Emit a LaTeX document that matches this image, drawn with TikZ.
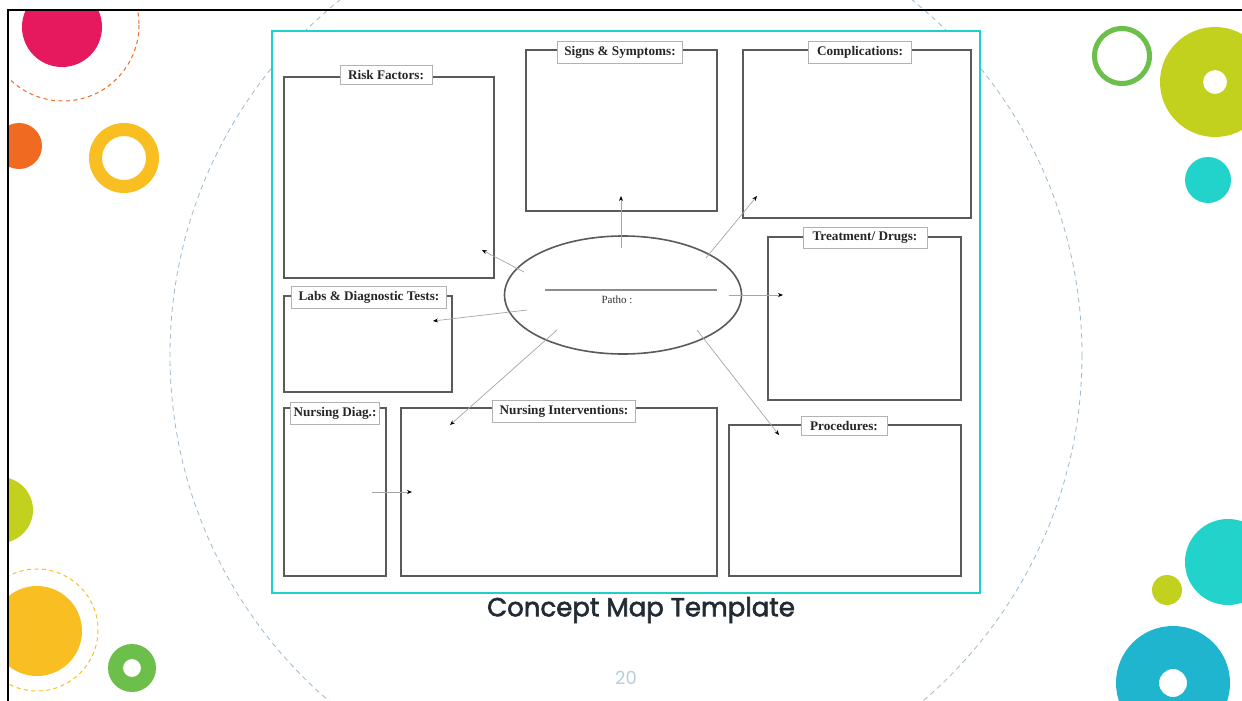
\documentclass[tikz,border=0pt]{standalone}
\usepackage{fontspec}
\setmainfont{Liberation Serif}
\newfontfamily\titlefont[FakeBold=2.3]{Poppins}
\newfontfamily\numfont{Poppins}
\usetikzlibrary{shapes.geometric,arrows.meta}
\definecolor{cmag}{HTML}{E6195E}
\definecolor{corg}{HTML}{F06A22}
\definecolor{cyel}{HTML}{F9BF22}
\definecolor{cgrn}{HTML}{6CBF4B}
\definecolor{clim}{HTML}{C2D11E}
\definecolor{ccyan}{HTML}{22D3CC}
\definecolor{cteal}{HTML}{20B5CE}
\definecolor{cdash}{HTML}{9DB9D0}
\definecolor{cframe}{HTML}{1ED0C8}
\definecolor{ctitle}{HTML}{222B33}
\definecolor{cnum}{HTML}{B8CFDC}
\definecolor{cbox}{HTML}{5A5A5A}
\tikzset{
  mapbox/.style={draw=cbox,line width=1.6pt,anchor=north west,inner sep=0pt},
  lab/.style={draw=gray!60,fill=white,line width=0.8pt,font=\bfseries\fontsize{13.2}{15}\selectfont,inner xsep=3pt,inner ysep=5pt,anchor=center,text=black!85},
  arr/.style={draw=gray!70,line width=0.7pt,-{Stealth[length=5pt,width=4pt,black]}},
  dcirc/.style={dash pattern=on 4pt off 3.5pt,line width=1pt}
}
\begin{document}
\begin{tikzpicture}[x=1pt,y=-1pt]
\useasboundingbox (0,0) rectangle (1242,701);
\fill[white] (0,0) rectangle (1242,701);
% big dashed circle
\draw[cdash,dash pattern=on 5pt off 4pt,line width=0.8pt] (626,355) circle[radius=456];
% decorations clipped to frame
\begin{scope}
\clip (8,10) rectangle (1242,701);
\fill[cmag] (62,27) circle[radius=40];
\draw[corg,dcirc] (63,25) circle[radius=76];
\fill[corg] (19,146) circle[radius=23];
\fill[cyel,even odd rule] (124,158) circle[radius=35] (124,158) circle[radius=22];
\fill[cgrn,even odd rule] (1122,56) circle[radius=30] (1122,56) circle[radius=25];
\fill[clim,even odd rule] (1215,82) circle[radius=55] (1215,82) circle[radius=12];
\fill[ccyan] (1208,180) circle[radius=23];
\fill[clim] (0,510) circle[radius=33];
\fill[cyel] (37,631) circle[radius=45];
\draw[cyel,dcirc] (37,630) circle[radius=61];
\fill[cgrn,even odd rule] (132,668) circle[radius=24] (132,668) circle[radius=9];
\fill[ccyan] (1228,562) circle[radius=43];
\fill[clim] (1167,590) circle[radius=15];
\fill[cteal,even odd rule] (1173,683) circle[radius=57] (1173,683) circle[radius=14];
\end{scope}
% black frame
\draw[black,line width=2pt] (8,701) -- (8,10) -- (1242,10);
% map frame
\draw[cframe,fill=white,line width=1.6pt] (272,31) rectangle (980,593);
% boxes
\node[mapbox,minimum width=210pt,minimum height=201pt] (rf) at (283,76) {};
\node[mapbox,minimum width=191pt,minimum height=161pt] (ss) at (525,49) {};
\node[mapbox,minimum width=228pt,minimum height=168pt] (co) at (742,49) {};
\node[mapbox,minimum width=193pt,minimum height=163pt] (td) at (767,236) {};
\node[mapbox,minimum width=168pt,minimum height=96pt] (lb) at (283,295) {};
\node[mapbox,minimum width=102pt,minimum height=168pt] (nd) at (283,407) {};
\node[mapbox,minimum width=316pt,minimum height=168pt] (ni) at (400,407) {};
\node[mapbox,minimum width=232pt,minimum height=151pt] (pr) at (728,424) {};
% labels
\node[lab,minimum width=92pt] (rfl) at (386,75) {Risk Factors:};
\node[lab,minimum width=125pt] (ssl) at (620,52) {Signs \& Symptoms:};
\node[lab,minimum width=103pt] (col) at (860,52) {Complications:};
\node[lab,minimum width=124pt] (tdl) at (865,238) {Treatment/ Drugs:};
\node[lab,minimum width=155pt] (lbl) at (369,297) {Labs \& Diagnostic Tests:};
\node[lab,minimum width=89pt] (ndl) at (335,413) {Nursing Diag.:};
\node[lab,minimum width=143pt] (nil) at (564,411) {Nursing Interventions:};
\node[lab,minimum width=86pt] (prl) at (844,426) {Procedures:};
% patho ellipse
\node[ellipse,draw=cbox,line width=1.6pt,minimum width=237pt,minimum height=118pt,inner sep=0pt] (pa) at (623,295) {};
\coordinate (pl1) at (545,290);
\coordinate (pl2) at (717,290);
\draw[gray!90,line width=1.1pt] (pl1) -- (pl2);
\node[font=\fontsize{11}{12}\selectfont,text=black!80] (pt) at (617,300) {Patho :};
% arrows
\coordinate (s1) at (621,248); \coordinate (e1) at (621,196);
\coordinate (s2) at (524,272); \coordinate (e2) at (482,250);
\coordinate (s3) at (527,310); \coordinate (e3) at (433,321);
\coordinate (s4) at (557,330); \coordinate (e4) at (450,425);
\coordinate (s5) at (706,258); \coordinate (e5) at (757,196);
\coordinate (s6) at (729,295); \coordinate (e6) at (783,295);
\coordinate (s7) at (697,330); \coordinate (e7) at (779,435);
\coordinate (s8) at (372,492); \coordinate (e8) at (412,492);
\draw[arr] (s1) -- (e1);
\draw[arr] (s2) -- (e2);
\draw[arr] (s3) -- (e3);
\draw[arr] (s4) -- (e4);
\draw[arr] (s5) -- (e5);
\draw[arr] (s6) -- (e6);
\draw[arr] (s7) -- (e7);
\draw[arr] (s8) -- (e8);
% title
\node[text=ctitle,font=\titlefont\fontsize{26}{30}\selectfont] (title) at (641,610) {Concept Map Template};
\node[text=cnum,font=\numfont\fontsize{18}{20}\selectfont] (pnum) at (626,678) {20};
\end{tikzpicture}
\end{document}
